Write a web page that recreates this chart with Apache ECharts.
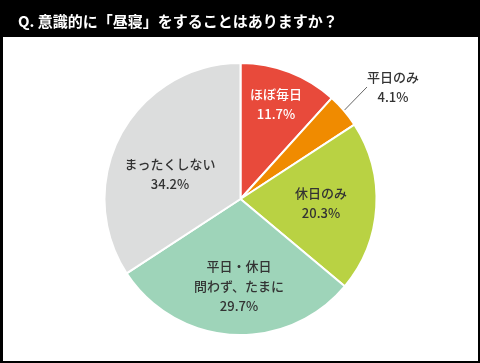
<!DOCTYPE html>
<html><head><meta charset="utf-8">
<script src="https://cdn.jsdelivr.net/npm/echarts@6/dist/echarts.min.js"></script>
<style>html,body{margin:0;padding:0;background:#000;}#c{width:480px;height:363px;}</style>
</head><body><div id="c"></div>
<script>
const titleText = 'Q. 意識的に「昼寝」をすることはありますか？';
const categories = ['ほぼ毎日', '平日のみ', '休日のみ', '平日・休日\n問わず、たまに', 'まったくしない'];
const values = [11.7, 4.1, 20.3, 29.7, 34.2];
const colors = ['#e84a3b', '#f08b00', '#b9d243', '#9ed4b9', '#dcdddd'];
const labelColors = ['#ffffff', '#333333', '#333333', '#333333', '#333333'];
// label anchor positions (styling)
const labelPos = [[276, 104], [393, 87], [321, 203], [239, 286], [170, 174]];

const chart = echarts.init(document.getElementById('c'), null, {renderer: 'canvas'});
const font = '"Noto Sans CJK JP", sans-serif';
chart.setOption({
  backgroundColor: '#000',
  animation: false,
  title: {
    text: titleText, left: 13, top: 9,
    textStyle: {color: '#fff', fontSize: 15, fontWeight: 'bold', fontFamily: font}
  },
  graphic: [{type: 'rect', shape: {x: 3, y: 37, width: 475, height: 324}, style: {fill: '#fff'}, z: -1}],
  series: [{
    type: 'pie',
    center: [240.5, 199],
    radius: 136,
    startAngle: 90,
    clockwise: true,
    itemStyle: {borderColor: '#fff', borderWidth: 2},
    label: {
      position: 'inside', fontFamily: font, fontSize: 13, lineHeight: 20,
      fontWeight: 500, align: 'center'
    },
    labelLayout: function (p) {
      const i = p.dataIndex;
      return {x: labelPos[i][0], y: labelPos[i][1], align: 'center', verticalAlign: 'middle'};
    },
    data: categories.map((c, i) => ({
      name: c, value: values[i],
      itemStyle: {color: colors[i]},
      label: i === 1 ? {
        position: 'outside', color: labelColors[i],
        formatter: c + '\n' + values[i].toFixed(1) + '%'
      } : {
        color: labelColors[i],
        formatter: c + '\n' + (i === 3 ? '{g|}' : '') + values[i].toFixed(1) + '%',
        rich: {g: {height: 2}}
      },
      labelLine: i === 1 ? {show: true, length: 28, length2: 0, lineStyle: {color: '#666', width: 1}} : {show: false}
    }))
  }]
});
</script></body></html>
